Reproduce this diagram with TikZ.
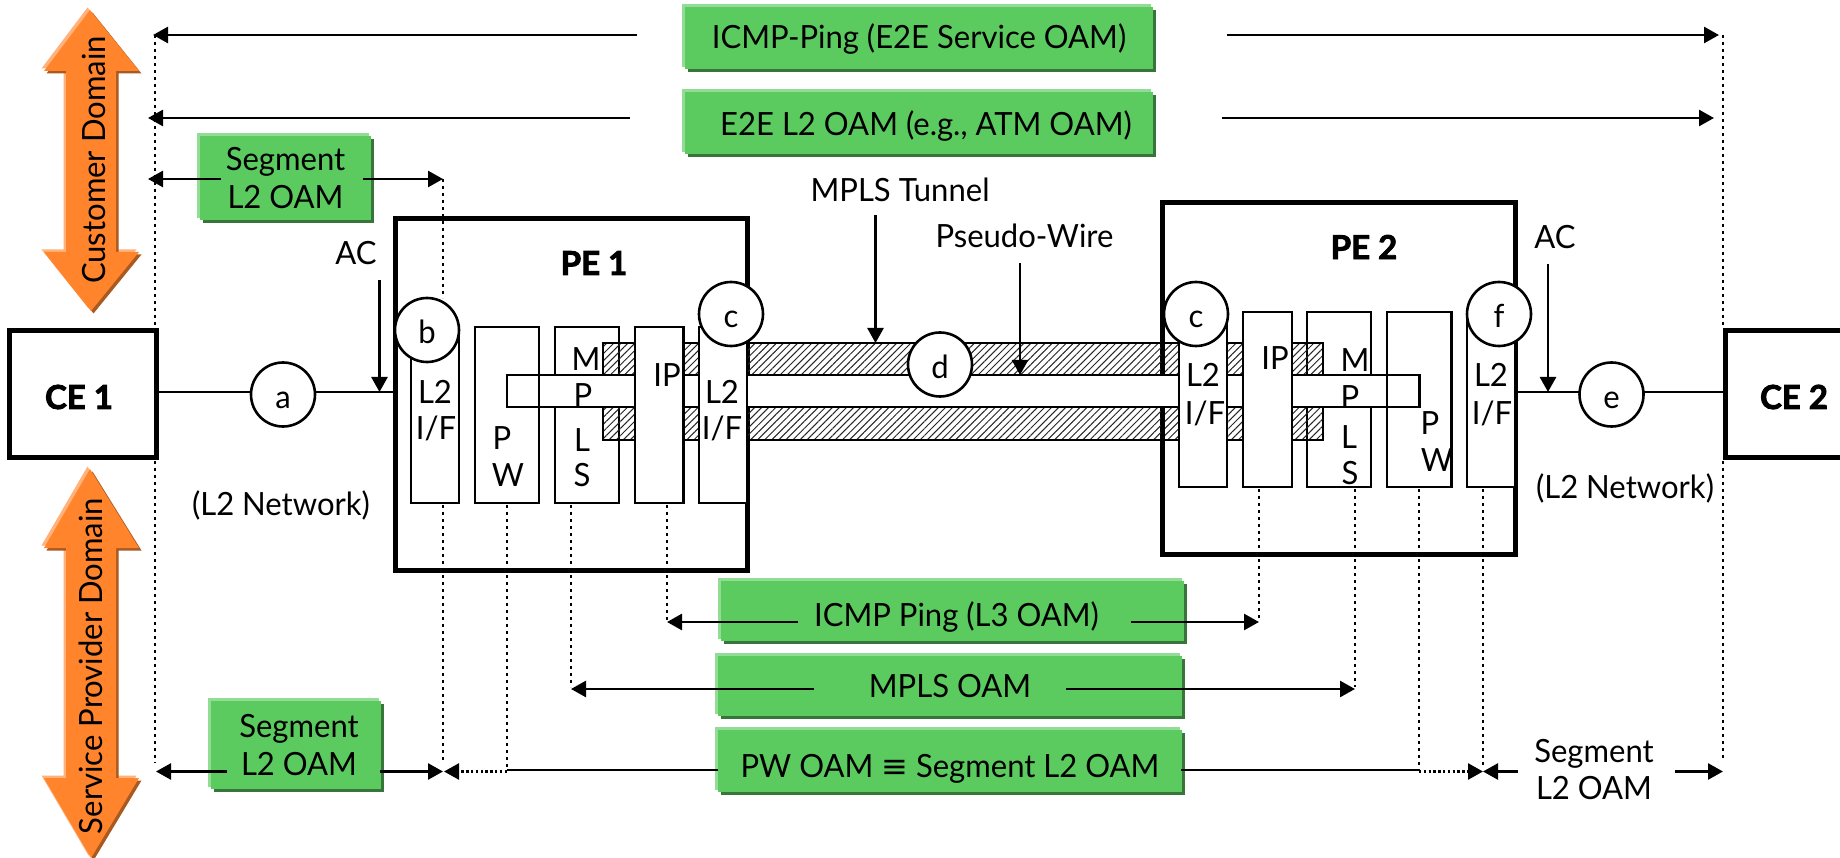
\documentclass[tikz,border=0pt]{standalone}
\usepackage{fontspec}
\setmainfont[FakeStretch=0.97,BoldFont={Lato Bold},BoldFeatures={FakeStretch=1.0,FakeBold=2.5}]{Lato}
\newfontfamily\symf{DejaVu Sans}
\usetikzlibrary{arrows.meta,patterns.meta}
\definecolor{gmain}{HTML}{5CCB5F}
\definecolor{glight}{HTML}{93DC95}
\definecolor{gdark}{HTML}{37753A}
\definecolor{omain}{HTML}{FF842B}
\definecolor{olight}{HTML}{FFB27C}
\definecolor{odark}{HTML}{A85A20}
\tikzset{
  lbl/.style={inner sep=0pt,outer sep=0pt,align=center,font=\fontsize{32}{37}\selectfont},
  heavy/.style={inner sep=0pt,outer sep=0pt,font=\fontsize{33}{37}\selectfont\bfseries},
  thick box/.style={draw=black,line width=5pt,fill=white,inner sep=0pt,outer sep=0pt},
  slot/.style={draw=black,line width=2.5pt,fill=white,inner sep=0pt,outer sep=0pt},
  slot line/.style={draw=black,line width=2.5pt,inner sep=0pt,outer sep=0pt},
  mark circle/.style={circle,draw=black,line width=2.6pt,fill=white,minimum size=64pt,inner sep=0pt,outer sep=0pt,text height=28pt,text depth=0pt,font=\fontsize{32}{37}\selectfont},
  gbox/.style={fill=gmain,inner sep=0pt,outer sep=0pt,align=center,font=\fontsize{32}{38}\selectfont},
  wire/.style={draw=black,line width=2.6pt},
  ptr/.style={draw=black,line width=2.6pt,-{Triangle[length=15pt,width=16pt]}},
  dots/.style={draw=black,line width=2.5pt,dash pattern=on 2.6pt off 4.4pt},
  hatchband/.style={draw=black,line width=2.5pt,pattern={Lines[angle=45,distance=5pt,line width=1pt]},pattern color=black!85},
}
% name, x1, y1, x2, y2, text
\newcommand\greenbox[6]{%
  \fill[glight] (#2-3,#3-3) rectangle (#4-2,#5-2);
  \fill[gdark] (#2+3,#3+3) rectangle (#4+3,#5+3);
  \node[gbox,minimum width={#4-#2},minimum height={#5-#3}] (#1) at ({(#2+#4)/2},{(#3+#5)/2}) {#6};}
\newcommand\slotbox[6][slot]{%
  \node[#1,minimum width={#4-#2},minimum height={#6-#3}] (#5) at ({(#2+#4)/2},{(#3+#6)/2}) {};}
\newcommand\lb[4]{\node[lbl] (#1) at (#2,#3) {#4};}
\newcommand\dn[1]{\rule{0pt}{#1pt}}
% top apex y, head base y, lower base y, bottom apex y
\newcommand\dblarrow[5]{%
  \path[#1] (90,#2) -- (139,#3) -- (116,#3) -- (116,#4) -- (139,#4) -- (91,#5) -- (44,#4) -- (66,#4) -- (66,#3) -- (44,#3) -- cycle;}
\begin{document}
\begin{tikzpicture}[x=1pt,y=-1pt]
\useasboundingbox (0,0) rectangle (1840,858);
\clip (0,0) rectangle (1840,858);
\fill[white] (0,0) rectangle (1840,858);

% domain arrows
\begin{scope}[shift={(-2.5,-2.5)}]\dblarrow{fill=olight}{10}{71}{252}{311}\end{scope}
\begin{scope}[shift={(2.5,2.5)}]\dblarrow{fill=odark}{10}{71}{252}{311}\end{scope}
\dblarrow{fill=omain}{10}{71}{252}{311}
\node[lbl,rotate=90] (custdom) at (94,160) {Customer Domain};
\begin{scope}[shift={(-2.5,-2.5)}]\dblarrow{fill=olight}{469}{548}{778}{858}\end{scope}
\begin{scope}[shift={(2.5,2.5)}]\dblarrow{fill=odark}{469}{548}{778}{858}\end{scope}
\dblarrow{fill=omain}{469}{548}{778}{858}
\node[lbl,rotate=90] (provdom) at (91,666) {Service Provider Domain};

% anchor points
\coordinate (topL) at (153,35);   \coordinate (topLe) at (637,35);
\coordinate (topR) at (1719,35);  \coordinate (topRs) at (1227,35);
\coordinate (e2L) at (148,118);   \coordinate (e2Le) at (630,118);
\coordinate (e2R) at (1714,118);  \coordinate (e2Rs) at (1222,118);
\coordinate (ceDotA) at (155,35); \coordinate (ceDotB) at (155,328);
\coordinate (ceDotC) at (155,461);\coordinate (ceDotD) at (155,763);
\coordinate (ce2DotA) at (1723,35);\coordinate (ce2DotB) at (1723,328);
\coordinate (ce2DotC) at (1723,461);\coordinate (ce2DotD) at (1723,760);

% dotted guides (behind the boxes)
\draw[dots] (ceDotA) -- (ceDotB);
\draw[dots] (ceDotC) -- (ceDotD);
\draw[dots] (ce2DotA) -- (ce2DotB);
\draw[dots] (ce2DotC) -- (ce2DotD);

% routers
\slotbox[thick box]{395}{218.5}{747}{pe1}{570}
\slotbox[thick box]{1162.5}{202.5}{1515}{pe2}{554.5}
\node[heavy] (pe1t) at (594,263) {PE 1};
\node[heavy] (pe2t) at (1364,247) {PE 2};
\slotbox[thick box]{9.5}{331}{156}{ce1}{458}
\slotbox[thick box]{1725}{331}{1860}{ce2}{458}
\node[heavy] (ce1t) at (79,397) {CE 1};
\node[heavy] (ce2t) at (1794,397) {CE 2};

% slots behind the tunnel
\slotbox{411}{327}{459}{ifa}{503}
\slotbox{475}{327}{539}{pwa}{503}
\slotbox{555}{327}{619}{mpa}{503}
\slotbox{1307}{312}{1371}{mpb}{487}
\slotbox{1387}{312}{1451.5}{pwb}{487}
\slotbox{1467}{312}{1515}{ifd}{487}

% tunnel
\node[hatchband,inner sep=0pt,minimum width=720pt,minimum height=32pt] (bandU) at (963,359) {};
\node[hatchband,inner sep=0pt,minimum width=720pt,minimum height=33pt] (bandL) at (963,423.5) {};
\coordinate (peUa) at (1162.5,343); \coordinate (peUb) at (1162.5,375);
\coordinate (peLa) at (1162.5,407); \coordinate (peLb) at (1162.5,440);
\draw[black,line width=4pt] (peUa) -- (peUb);
\draw[black,line width=4pt] (peLa) -- (peLb);
\node[slot,minimum width=912.5pt,minimum height=32pt] (tube) at (963.25,391) {};
\slotbox[slot line]{475}{327}{539}{pwaedge}{503}
\slotbox[slot line]{1387}{312}{1451.5}{pwbedge}{487}

% slots in front of the tunnel
\slotbox{635}{327}{683.5}{ipa}{503}
\slotbox{699}{327}{747}{ifb}{503}
\slotbox{1179}{312}{1227}{ifc}{487}
\slotbox{1243}{312}{1292}{ipb}{487}

% slot labels
\lb{la1}{435}{392}{L2}\lb{la2}{436}{428}{I/F}
\lb{lb1}{722}{392}{L2}\lb{lb2}{722}{428}{I/F}
\lb{lc1}{502}{438}{P}\lb{lc2}{508}{475}{W}
\lb{ld1}{586}{359}{M}\lb{ld2}{583}{395}{P}\lb{ld3}{582}{440}{L}\lb{ld4}{582}{475}{S}
\lb{le1}{667}{375}{IP}
\lb{lf1}{1203}{375}{L2}\lb{lf2}{1205}{413}{I/F}
\lb{lg1}{1275}{358}{IP}
\lb{lh1}{1355}{360}{M}\lb{lh2}{1350}{397}{P}\lb{lh3}{1349}{437}{L}\lb{lh4}{1350}{473}{S}
\lb{li1}{1430}{423}{P}\lb{li2}{1437}{460}{W}
\lb{lj1}{1491}{375}{L2}\lb{lj2}{1492}{413}{I/F}

% access circuits
\node[mark circle] (a) at (283,394.5) {a};
\node[mark circle] (e) at (1611.5,394.5) {e};
\coordinate (ce1p) at (156,392); \coordinate (pe1p) at (395,392);
\coordinate (pe2p) at (1515,392); \coordinate (ce2p) at (1725,392);
\draw[wire] (ce1p) -- (ce1p -| a.west);
\draw[wire] (ce1p -| a.east) -- (pe1p);
\draw[wire] (pe2p) -- (pe2p -| e.west);
\draw[wire] (pe2p -| e.east) -- (ce2p);

% circles on the routers
\node[mark circle] (b) at (427,330) {b};
\node[mark circle] (c1) at (731,314) {c};
\node[mark circle] (d) at (940,364.5) {d};
\node[mark circle] (c2) at (1196,314) {c};
\node[mark circle] (f) at (1499,314) {f};

% green boxes
\greenbox{g1}{685}{7}{1153}{69}{\dn{27}ICMP-Ping (E2E Service OAM)}
\greenbox{g2}{685}{92}{1153}{154}{\dn{31}\hspace*{14pt}E2E L2 OAM (e.g., ATM OAM)}
\greenbox{g3}{200}{136}{371}{220}{Segment\\L2 OAM}
\greenbox{g4}{721}{581}{1184}{641}{\dn{36}\hspace*{8pt}ICMP Ping (L3 OAM)}
\greenbox{g5}{718}{656}{1182}{716}{MPLS OAM}
\greenbox{g6}{718}{730}{1182}{792}{\dn{38}PW OAM {\symf≡} Segment L2 OAM}
\greenbox{g7}{211}{701}{381}{789}{\hspace*{6pt}Segment\\\hspace*{6pt}L2 OAM}

% end-to-end arrows
\draw[ptr] (topLe) -- (topL);
\draw[ptr] (topRs) -- (topR);
\draw[ptr] (e2Le) -- (e2L);
\draw[ptr] (e2Rs) -- (e2R);

% upper segment arrows
\coordinate (s1L) at (148,179); \coordinate (s1Ls) at (221,179);
\coordinate (s1Rs) at (363,179); \coordinate (s1R) at (443,179);
\coordinate (s1Dot) at (443,179); \coordinate (bTop) at (443,298);
\draw[ptr] (s1Ls) -- (s1L);
\draw[ptr] (s1Rs) -- (s1R);
\draw[dots] (s1Dot) -- (bTop);

% pointers with labels
\lb{mt}{900}{190}{MPLS Tunnel}
\lb{pwl}{1024.5}{236}{Pseudo-Wire}
\coordinate (mts) at (875.5,215); \coordinate (mte) at (875.5,343);
\coordinate (pws) at (1020,263);  \coordinate (pwe) at (1020,375);
\draw[ptr] (mts) -- (mte);
\draw[ptr] (pws) -- (pwe);
\lb{ac1}{356}{253}{AC}
\lb{ac2}{1555}{237}{AC}
\coordinate (ac1s) at (379.5,280); \coordinate (ac1e) at (379.5,392);
\coordinate (ac2s) at (1548,264);  \coordinate (ac2e) at (1548,392);
\draw[ptr] (ac1s) -- (ac1e);
\draw[ptr] (ac2s) -- (ac2e);
\lb{net1}{281}{505}{(L2 Network)}
\lb{net2}{1625}{488}{(L2 Network)}

% dotted guides below slots
\coordinate (d1a) at (443,505);  \coordinate (d1b) at (443,760);
\coordinate (d2a) at (507,505);  \coordinate (d2b) at (507,770);
\coordinate (d3a) at (571,505);  \coordinate (d3b) at (571,687);
\coordinate (d4a) at (667,505);  \coordinate (d4b) at (667,620);
\coordinate (d5a) at (1259,489); \coordinate (d5b) at (1259,620);
\coordinate (d6a) at (1355,489); \coordinate (d6b) at (1355,687);
\coordinate (d7a) at (1419,489); \coordinate (d7b) at (1419,770);
\coordinate (d8a) at (1483,489); \coordinate (d8b) at (1483,765);
\draw[dots] (d1a) -- (d1b);
\draw[dots] (d2a) -- (d2b);
\draw[dots] (d3a) -- (d3b);
\draw[dots] (d4a) -- (d4b);
\draw[dots] (d5a) -- (d5b);
\draw[dots] (d6a) -- (d6b);
\draw[dots] (d7a) -- (d7b);
\draw[dots] (d8a) -- (d8b);

% lower OAM arrows
\coordinate (ipL) at (667,622);  \coordinate (ipLs) at (798,622);
\coordinate (ipRs) at (1131,622);\coordinate (ipR) at (1259,622);
\draw[ptr] (ipLs) -- (ipL);
\draw[ptr] (ipRs) -- (ipR);
\coordinate (mpL) at (571,689);  \coordinate (mpLs) at (814,689);
\coordinate (mpRs) at (1066,689);\coordinate (mpR) at (1355,689);
\draw[ptr] (mpLs) -- (mpL);
\draw[ptr] (mpRs) -- (mpR);
\coordinate (pwL) at (507,770);  \coordinate (pwLe) at (718,770);
\coordinate (pwRs) at (1181,770);\coordinate (pwR) at (1419,770);
\draw[wire] (pwL) -- (pwLe);
\draw[wire] (pwRs) -- (pwR);
\coordinate (pwDa) at (507,771.5); \coordinate (pwDb) at (444,771.5);
\coordinate (pwDc) at (1419,771.5);\coordinate (pwDd) at (1483,771.5);
\draw[dots,-{Triangle[length=15pt,width=16pt]},dash pattern=on 2.4pt off 2.4pt] (pwDa) -- (pwDb);
\draw[dots,-{Triangle[length=15pt,width=16pt]},dash pattern=on 2.4pt off 2.4pt] (pwDc) -- (pwDd);
\coordinate (s2L) at (156,771.5); \coordinate (s2Ls) at (227,771.5);
\coordinate (s2Rs) at (380,771.5);\coordinate (s2R) at (443,771.5);
\draw[ptr] (s2Ls) -- (s2L);
\draw[ptr] (s2Rs) -- (s2R);
\lb{seg3}{1594}{770}{Segment\\L2 OAM}
\coordinate (s3Ls) at (1518,771.5);\coordinate (s3L) at (1483,771.5);
\coordinate (s3Rs) at (1675,771.5);\coordinate (s3R) at (1723,771.5);
\draw[ptr] (s3Ls) -- (s3L);
\draw[ptr] (s3Rs) -- (s3R);
\end{tikzpicture}
\end{document}
